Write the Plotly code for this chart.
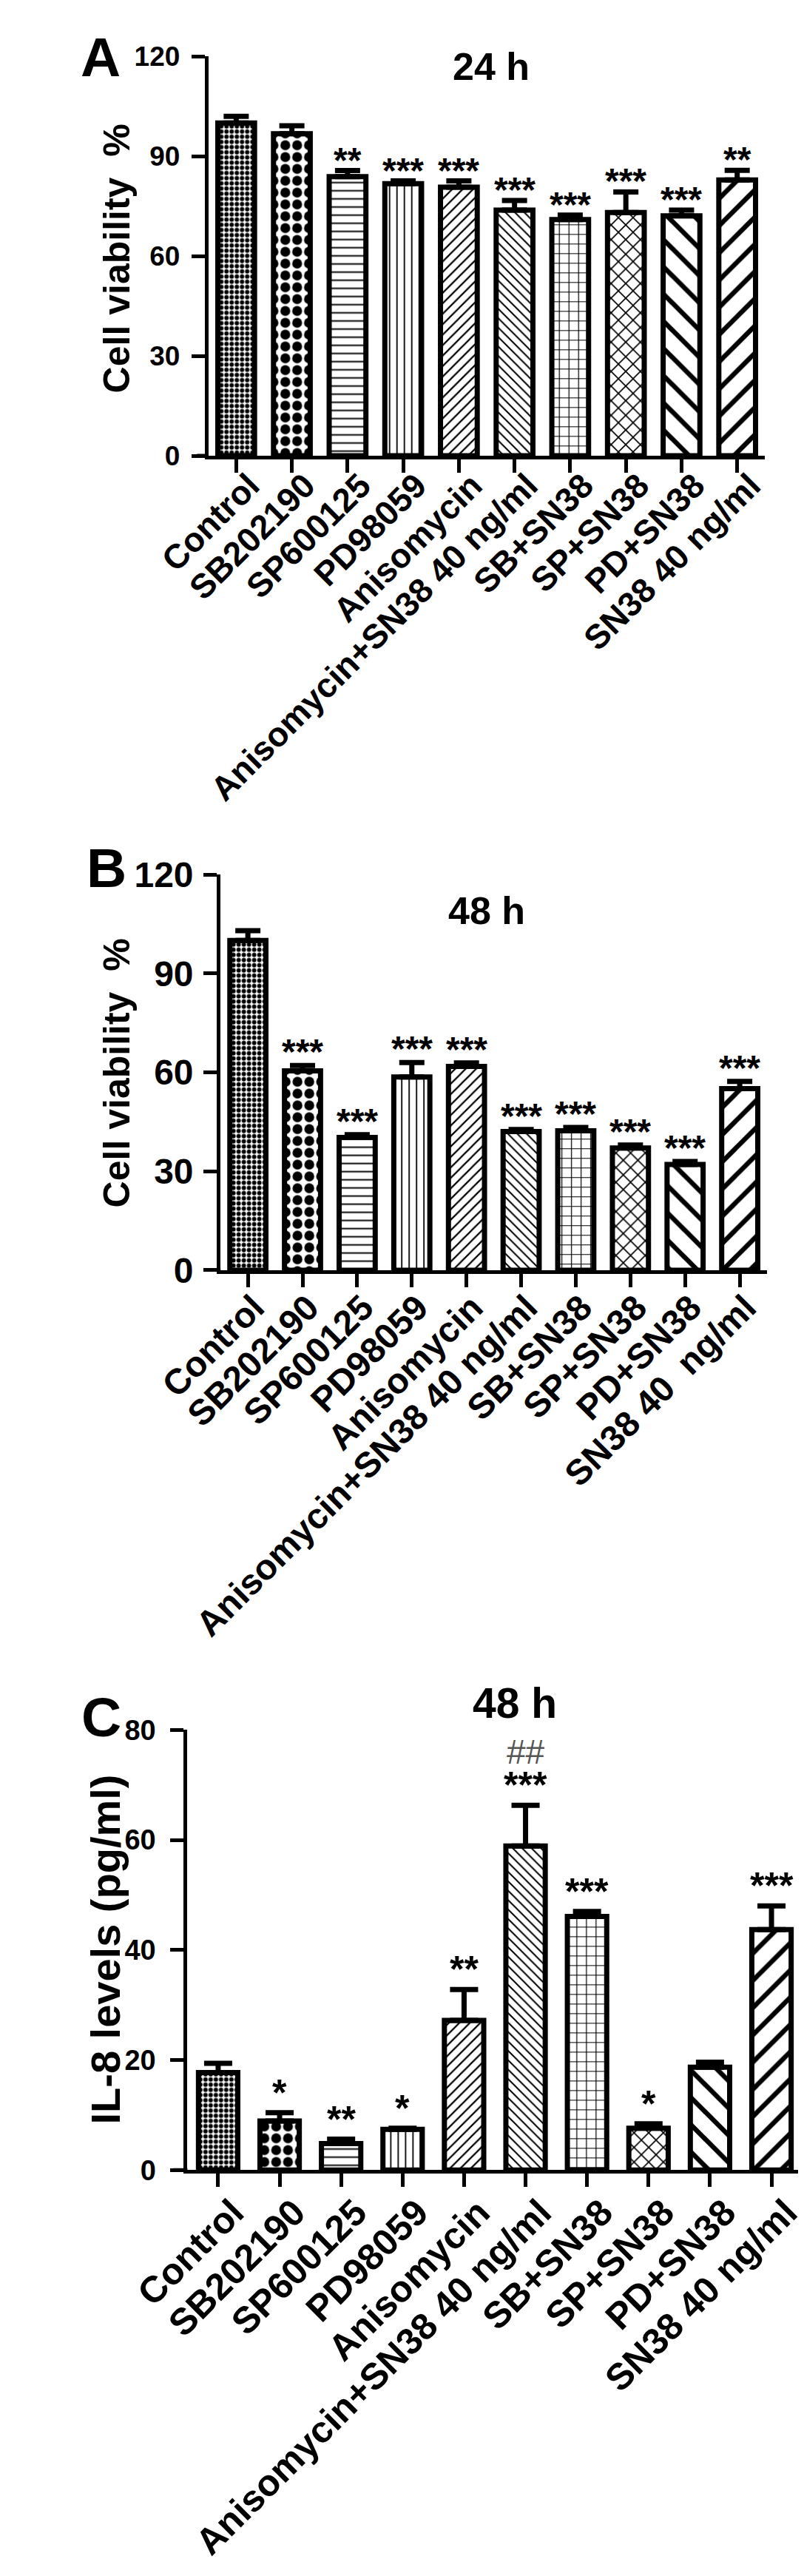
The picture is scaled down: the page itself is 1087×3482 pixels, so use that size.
import plotly.graph_objects as go

W, H = 1087, 3482

categories = ["Control", "SB202190", "SP600125", "PD98059", "Anisomycin",
              "Anisomycin+SN38 40 ng/ml", "SB+SN38", "SP+SN38", "PD+SN38",
              "SN38 40 ng/ml"]
ticktext_a = categories
ticktext_b = categories[:-1] + ["SN38 40\u00a0\u00a0ng/ml"]
ticktext_c = categories

viab_24h = [100.0, 96.8, 83.9, 81.8, 80.7, 73.8, 71.0, 73.1, 72.1, 82.9]
viab_24h_err = [2.0, 2.4, 1.8, 0.8, 1.9, 2.9, 1.3, 6.2, 1.7, 2.9]
stars_24h = ["", "", "**", "***", "***", "***", "***", "***", "***", "**"]

viab_48h = [100.0, 60.5, 40.3, 58.6, 61.8, 42.1, 42.3, 37.1, 32.1, 55.1]
viab_48h_err = [3.0, 1.6, 0.8, 4.4, 1.1, 0.6, 1.0, 0.9, 0.9, 2.2]
stars_48h = ["", "***", "***", "***", "***", "***", "***", "***", "***", "***"]

il8_48h = [17.7, 8.9, 4.8, 7.4, 27.2, 58.9, 46.1, 7.6, 18.7, 43.7]
il8_48h_err = [1.7, 1.5, 0.8, 0.2, 5.6, 7.4, 0.9, 0.8, 0.9, 4.3]
stars_il8 = ["", "*", "**", "*", "**", "***", "***", "*", "", "***"]
hash_il8 = ["", "", "", "", "", "##", "", "", "", ""]

ticks_viab = [0, 30, 60, 90, 120]
ticks_il8 = [0, 20, 40, 60, 80]

# bar fill patterns (one per group)
pat_shape = [".", ".", "-", "|", "/", "\\", "+", "x", "\\", "/"]
pat_size = [7, 16, 11, 10, 10, 9, 13, 14, 26, 26]
pat_solid = [0.55, 0.55, 0.18, 0.18, 0.22, 0.22, 0.18, 0.22, 0.25, 0.25]

FONT = "Arial, Liberation Sans, sans-serif"

panels = [
    dict(vals=viab_24h, err=viab_24h_err, stars=stars_24h, hashes=None,
         ticktext=ticktext_a, xpx=(202, 1025), ypx=(43, 591), yr=[0, 120],
         tv=ticks_viab, ytf=37, xtf=46, sshift=-14, sfont=48, tstand=8,
         xstand=-28, xshift=18, xext=17,
         letter="A", lpos=(43, 44), title="24 h", tpos=(620, 57), tfs=52,
         ytitle="Cell viability\u00a0\u00a0%", ytpos=(67, 320), ytfs=50,
         bw=0.66, ew=17),
    dict(vals=viab_48h, err=viab_48h_err, stars=stars_48h, hashes=None,
         ticktext=ticktext_b, xpx=(220, 1028), ypx=(1166, 1709), yr=[0, 120],
         tv=ticks_viab, ytf=48, xtf=48, sshift=-10, sfont=48, tstand=4,
         xstand=-20, xshift=8, xext=18,
         letter="B", lpos=(51, 1157), title="48 h", tpos=(613, 1216), tfs=52,
         ytitle="Cell viability\u00a0\u00a0%", ytpos=(67, 1438), ytfs=50,
         bw=0.66, ew=17),
    dict(vals=il8_48h, err=il8_48h_err, stars=stars_il8, hashes=hash_il8,
         ticktext=ticktext_c, xpx=(171, 1080), ypx=(2340, 2944), yr=[0, 80],
         tv=ticks_il8, ytf=38, xtf=50, sshift=-3, sfont=50, tstand=12,
         xstand=-15, xshift=20, xext=21,
         letter="C", lpos=(44, 2322), title="48 h", tpos=(655, 2303), tfs=57,
         ytitle="IL-8 levels (pg/ml)", ytpos=(50, 2641), ytfs=56,
         bw=0.64, ew=19),
]

fig = go.Figure()
annotations = []
shapes = []
layout_axes = {}

for i, p in enumerate(panels, start=1):
    xname = "x" if i == 1 else f"x{i}"
    yname = "y" if i == 1 else f"y{i}"
    fig.add_trace(go.Bar(
        x=categories, y=p["vals"], xaxis=xname, yaxis=yname,
        width=p["bw"],
        marker=dict(color="white",
                    line=dict(color="black", width=7),
                    pattern=dict(shape=pat_shape, size=pat_size,
                                 solidity=pat_solid, fgcolor="black",
                                 bgcolor="white", fillmode="replace")),
        error_y=dict(type="data", symmetric=False, array=p["err"],
                     arrayminus=[0] * len(p["err"]), color="black",
                     thickness=7, width=p["ew"]),
        showlegend=False, hoverinfo="skip",
    ))
    xd = [p["xpx"][0] / W, p["xpx"][1] / W]
    yd = [1 - p["ypx"][1] / H, 1 - p["ypx"][0] / H]
    layout_axes["xaxis" if i == 1 else f"xaxis{i}"] = dict(
        domain=xd, anchor=yname, type="category", range=[-0.5, 9.5],
        categoryorder="array", categoryarray=categories,
        tickvals=categories, ticktext=p["ticktext"], tickangle=-45,
        tickfont=dict(family=FONT, size=p["xtf"], color="black", weight="bold"),
        showline=True, linewidth=5, linecolor="black", ticks="outside",
        ticklen=18, tickwidth=5, tickcolor="black", showgrid=False,
        zeroline=False, fixedrange=True,
        ticklabelstandoff=p["xstand"], ticklabelshift=p["xshift"])
    layout_axes["yaxis" if i == 1 else f"yaxis{i}"] = dict(
        domain=yd, anchor=xname, range=p["yr"], tickvals=p["tv"],
        tickfont=dict(family=FONT, size=p["ytf"], color="black", weight="bold"),
        showline=True, linewidth=5, linecolor="black", ticks="outside",
        ticklen=18, tickwidth=5, tickcolor="black", showgrid=False,
        zeroline=False, fixedrange=True, ticklabelstandoff=p["tstand"])

    # Prism-style: x axis line runs a little past the y axis on the left
    axis_w = p["xpx"][1] - p["xpx"][0]
    shapes.append(dict(
        type="line", xref=f"{xname} domain", yref=yname,
        x0=-p["xext"] / axis_w, x1=0, y0=0, y1=0,
        line=dict(color="black", width=5), layer="above"))

    for c, v, e, s in zip(categories, p["vals"], p["err"], p["stars"]):
        if s:
            annotations.append(dict(
                x=c, y=v + e, xref=xname, yref=yname, text=s, showarrow=False,
                yanchor="bottom", xanchor="center", yshift=p["sshift"],
                font=dict(family=FONT, size=p["sfont"], color="black",
                          weight="bold")))
    if p["hashes"]:
        for c, v, e, h in zip(categories, p["vals"], p["err"], p["hashes"]):
            if h:
                annotations.append(dict(
                    x=c, y=v + e, xref=xname, yref=yname, text=h,
                    showarrow=False, yanchor="bottom", xanchor="center",
                    yshift=44, font=dict(family=FONT, size=46,
                                         color="#555555")))

    annotations.append(dict(
        x=p["lpos"][0] / W, y=1 - p["lpos"][1] / H, xref="paper", yref="paper",
        text=p["letter"], showarrow=False, xanchor="center", yanchor="middle",
        font=dict(family=FONT, size=75, color="black", weight="bold")))
    annotations.append(dict(
        x=p["tpos"][0] / W, y=1 - p["tpos"][1] / H, xref="paper", yref="paper",
        text=p["title"], showarrow=False, xanchor="center", yanchor="middle",
        font=dict(family=FONT, size=p["tfs"], color="black", weight="bold")))
    annotations.append(dict(
        x=p["ytpos"][0] / W, y=1 - p["ytpos"][1] / H, xref="paper",
        yref="paper", text=p["ytitle"], showarrow=False, textangle=-90,
        xanchor="center", yanchor="middle",
        font=dict(family=FONT, size=p["ytfs"], color="black", weight="bold")))

fig.update_layout(
    width=W, height=H, margin=dict(l=0, r=0, t=0, b=0),
    paper_bgcolor="white", plot_bgcolor="white",
    annotations=annotations, shapes=shapes, bargap=0.34, **layout_axes)

fig.write_html("out.html")
